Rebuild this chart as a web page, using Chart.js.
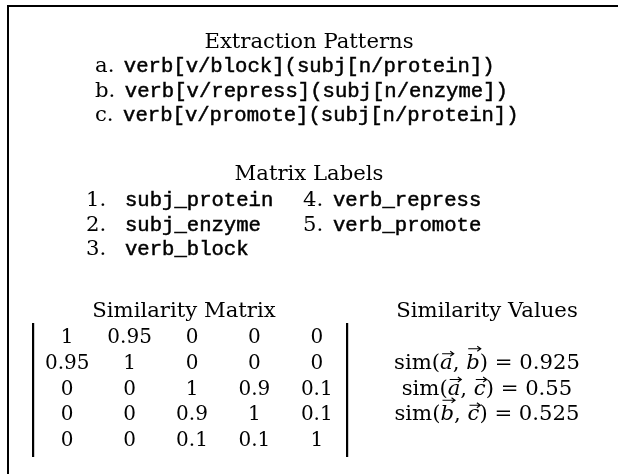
<!DOCTYPE html>
<html>
<head>
<meta charset="utf-8">
<script src="https://cdn.jsdelivr.net/npm/chart.js@4.4.1/dist/chart.umd.min.js"></script>
<style>
    html, body { margin: 0; padding: 0; background: #fff; }
    #wrap { width: 618px; height: 474px; position: relative; }
</style>
</head>
<body>
<div id="wrap"><canvas id="sim_figure"></canvas></div>
<script>
// figure content
const pattern_title = "Extraction Patterns";
const pattern_tags = ["a.", "b.", "c."];
const pattern_texts = [
    "verb[v/block](subj[n/protein])",
    "verb[v/repress](subj[n/enzyme])",
    "verb[v/promote](subj[n/protein])"
];
const label_title = "Matrix Labels";
const label_nums = ["1.", "2.", "3.", "4.", "5."];
const label_names = ["subj_protein", "subj_enzyme", "verb_block", "verb_repress", "verb_promote"];
const matrix_title = "Similarity Matrix";
const matrix_rows = [
    [1, 0.95, 0, 0, 0],
    [0.95, 1, 0, 0, 0],
    [0, 0, 1, 0.9, 0.1],
    [0, 0, 0.9, 1, 0.1],
    [0, 0, 0.1, 0.1, 1]
];
const values_title = "Similarity Values";
const sim_pairs = [["a", "b"], ["a", "c"], ["b", "c"]];
const sim_values = [0.925, 0.55, 0.525];
const sim_rows = [2, 3, 4];

const SERIF = "21.2px 'DejaVu Serif'";
const SERIF_IT = "italic 21.2px 'DejaVu Serif'";
const DIGITS = "20px 'DejaVu Serif'";
const MONO = "20.6px 'Liberation Mono'";

let cells = [];
for (let i = 0; i < matrix_rows.length; i++) {
    for (let j = 0; j < matrix_rows[i].length; j++) {
        cells.push({x: j + 1, y: i + 1, v: matrix_rows[i][j]});
    }
}

function monoText(ctx, txt, x, y) {
    ctx.font = MONO;
    ctx.fillText(txt, x, y);
    ctx.lineWidth = 0.5;
    ctx.strokeText(txt, x, y);
}

function drawVecLetter(ctx, letter, x, base) {
    ctx.font = SERIF_IT;
    ctx.textAlign = "left";
    ctx.fillText(letter, x, base);
    let w = ctx.measureText(letter).width;
    let tall = (letter == "b");
    let ay = tall ? base - 20 : base - 15;
    let x0 = x + 2;
    let x1 = x + w + 1;
    ctx.lineWidth = 1.1;
    ctx.beginPath();
    ctx.moveTo(x0, ay);
    ctx.lineTo(x1, ay);
    ctx.moveTo(x1 - 3.5, ay - 2.5);
    ctx.lineTo(x1, ay);
    ctx.lineTo(x1 - 3.5, ay + 2.5);
    ctx.stroke();
    return w;
}

function simWidth(ctx, pair, val) {
    ctx.font = SERIF;
    let w = ctx.measureText("sim(").width + ctx.measureText(", ").width + ctx.measureText(") = " + val).width;
    ctx.font = SERIF_IT;
    w += ctx.measureText(pair[0]).width + ctx.measureText(pair[1]).width;
    return w;
}

const figureText = {
    id: "figure_text",
    afterDraw(chart) {
        let ctx = chart.ctx;
        let area = chart.chartArea;
        let ys = chart.scales.y;
        ctx.save();
        ctx.fillStyle = "#000";
        ctx.strokeStyle = "#000";

        // frame
        ctx.fillRect(7, 5, 611, 2);
        ctx.fillRect(7, 5, 2, 469);

        ctx.textBaseline = "alphabetic";
        ctx.font = SERIF;
        ctx.textAlign = "center";
        ctx.fillText(pattern_title, 309, 48);
        ctx.fillText(label_title, 309, 180);
        ctx.fillText(matrix_title, 184, 317);
        ctx.fillText(values_title, 487, 317);

        // patterns
        let pat_base = [72, 97, 121];
        for (let i = 0; i < pattern_tags.length; i++) {
            ctx.font = SERIF;
            ctx.textAlign = "left";
            ctx.fillText(pattern_tags[i], 95, pat_base[i]);
            let tw = ctx.measureText(pattern_tags[i]).width;
            monoText(ctx, pattern_texts[i], 95 + tw + 9.5, pat_base[i]);
        }

        // labels
        let lab_base = [206, 231, 255];
        for (let i = 0; i < label_nums.length; i++) {
            let col = i < 3 ? 0 : 1;
            let row = i < 3 ? i : i - 3;
            let nx = col == 0 ? 86 : 303;
            let tx = col == 0 ? 125 : 333;
            ctx.font = SERIF;
            ctx.textAlign = "left";
            ctx.fillText(label_nums[i], nx, lab_base[row]);
            monoText(ctx, label_names[i], tx, lab_base[row]);
        }

        // matrix bars
        ctx.fillRect(area.left - 4, area.top, 2.2, area.bottom - area.top + 5);
        ctx.fillRect(area.right - 2, area.top, 2.2, area.bottom - area.top + 5);

        // matrix cells
        let meta = chart.getDatasetMeta(0);
        ctx.font = DIGITS;
        ctx.textAlign = "center";
        meta.data.forEach(function(pt, k) {
            ctx.fillText(String(cells[k].v), pt.x, pt.y + 7);
        });

        // similarity values
        for (let i = 0; i < sim_pairs.length; i++) {
            let base = ys.getPixelForValue(sim_rows[i]) + 7;
            let w = simWidth(ctx, sim_pairs[i], sim_values[i]);
            let x = 487 - w / 2;
            ctx.font = SERIF;
            ctx.textAlign = "left";
            ctx.fillText("sim(", x, base);
            x += ctx.measureText("sim(").width;
            x += drawVecLetter(ctx, sim_pairs[i][0], x, base);
            ctx.font = SERIF;
            ctx.fillText(", ", x, base);
            x += ctx.measureText(", ").width;
            x += drawVecLetter(ctx, sim_pairs[i][1], x, base);
            ctx.font = SERIF;
            ctx.fillText(") = " + sim_values[i], x, base);
        }
        ctx.restore();
    }
};

new Chart(document.getElementById("sim_figure"), {
    type: "scatter",
    data: {
        datasets: [{
            data: cells,
            pointRadius: 0,
            pointHoverRadius: 0,
            showLine: false
        }]
    },
    options: {
        responsive: true,
        maintainAspectRatio: false,
        animation: false,
        events: [],
        layout: {
            padding: {left: 36, right: 270, top: 323, bottom: 22}
        },
        plugins: {
            legend: {display: false},
            tooltip: {enabled: false}
        },
        scales: {
            x: {type: "linear", min: 0.5, max: 5.5, display: false},
            y: {type: "linear", min: 0.5, max: 5.5, reverse: true, display: false}
        }
    },
    plugins: [figureText]
});
</script>
</body>
</html>
